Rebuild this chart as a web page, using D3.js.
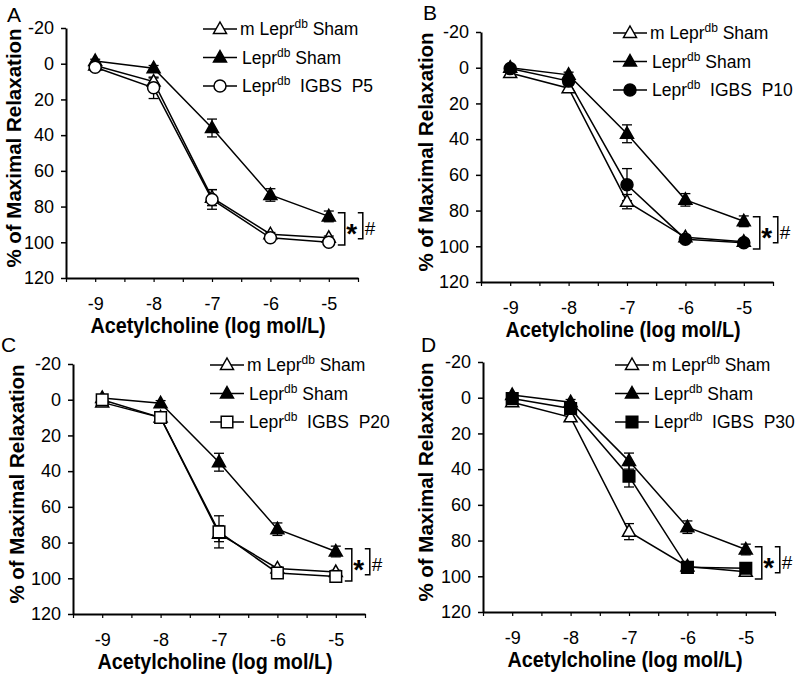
<!DOCTYPE html>
<html>
<head>
<meta charset="utf-8">
<script src="https://cdn.jsdelivr.net/npm/d3@7"></script>
<style>
  html, body { margin: 0; padding: 0; background: #fff; }
  svg { display: block; font-family: "Liberation Sans", Arial, sans-serif; }
  text { white-space: pre; }
</style>
</head>
<body>
<svg id="chart" width="800" height="674"></svg>
<script>
// ---------- DATA ----------
const concentrations = [-9, -8, -7, -6, -5];
const xTickValues = [-9.5, -9, -8.5, -8, -7.5, -7, -6.5, -6, -5.5, -5, -4.5];
const xTickLabels = ["-9", "-8", "-7", "-6", "-5"];
const yTicks = [-20, 0, 20, 40, 60, 80, 100, 120];
const yTickLabels = ["-20", "0", "20", "40", "60", "80", "100", "120"];
const panelLetters = ["A", "B", "C", "D"];
const igbsDoses = ["P5", "P10", "P20", "P30"];
const igbsMarkers = ["circleOpen", "circleFilled", "squareOpen", "squareFilled"];

// m Lepr^db Sham (open triangle), per panel
const mShamA = [1, 10, 75, 95.5, 97.5];
const mShamErrA = [1, 2, 4.5, 1, 1];
const mShamB = [3, 11.5, 75, 95, 97.5];
const mShamErrB = [1, 2, 4, 1, 1];
const mShamC = [1.5, 10, 75, 94.5, 96.5];
const mShamErrC = [1, 2, 4.5, 1, 1];
const mShamD = [2.5, 11, 75, 94.5, 97.5];
const mShamErrD = [1, 2, 4.5, 1, 1.5];

// Lepr^db Sham (filled triangle), per panel
const shamA = [-1.5, 2.5, 36, 73.5, 85.5];
const shamErrA = [1, 1.5, 5, 3.5, 3];
const shamB = [0, 4, 37, 74, 86];
const shamErrB = [1, 1.5, 5, 3.5, 3];
const shamC = [-1, 2, 35, 72.5, 85];
const shamErrC = [1, 1.5, 5, 3.5, 3];
const shamD = [-1.5, 2.5, 35.5, 72.5, 85];
const shamErrD = [1, 1.5, 4.5, 3.5, 3];

// Lepr^db IGBS (P5, P10, P20, P30), per panel
const igbsA = [2, 13.5, 76, 97.5, 100];
const igbsErrA = [1, 6, 5.5, 1, 1];
const igbsB = [0.5, 7.5, 65.5, 96, 98];
const igbsErrB = [1, 2, 9, 1, 1];
const igbsC = [0, 10, 74, 97, 99];
const igbsErrC = [1, 2, 9, 1, 1];
const igbsD = [0.5, 6, 44, 95, 95.5];
const igbsErrD = [1, 2, 6, 1, 3];

// significance brackets (y extents in data units): [top, bottom]
const bracketStar = [83.5, 101.5];
const bracketHash = [83.5, 98];

// ---------- LAYOUT ----------
const W = 292, H = 250;
const panelPos = [
  { x: 66, y: 28, letter: [7, 22], yt: -45 },
  { x: 481, y: 32, letter: [423, 20], yt: -48 },
  { x: 73, y: 364, letter: [1, 352], yt: -49 },
  { x: 483, y: 362, letter: [421, 352], yt: -50 }
];
const panelData = [
  { m: mShamA, me: mShamErrA, s: shamA, se: shamErrA, g: igbsA, ge: igbsErrA },
  { m: mShamB, me: mShamErrB, s: shamB, se: shamErrB, g: igbsB, ge: igbsErrB },
  { m: mShamC, me: mShamErrC, s: shamC, se: shamErrC, g: igbsC, ge: igbsErrC },
  { m: mShamD, me: mShamErrD, s: shamD, se: shamErrD, g: igbsD, ge: igbsErrD }
];

const svg = d3.select("#chart");
const x = d3.scaleLinear().domain([-9.5, -4.5]).range([0, W]);
const y = d3.scaleLinear().domain([-20, 120]).range([0, H]);

function markerPath(type) {
  if (type.startsWith("tri")) return "M0,-7L6.5,4.5L-6.5,4.5Z";
  if (type.startsWith("square")) return "M-5.8,-5.8H5.8V5.8H-5.8Z";
  return d3.symbol().type(d3.symbolCircle).size(Math.PI * 6 * 6)();
}
function markerFill(type) {
  return type.endsWith("Filled") ? "#000" : "#fff";
}

panelPos.forEach((p, i) => {
  const d = panelData[i];
  const g = svg.append("g").attr("transform", `translate(${p.x},${p.y})`);

  // panel letter
  svg.append("text").attr("x", p.letter[0]).attr("y", p.letter[1])
    .attr("font-size", 21).text(panelLetters[i]);

  // axes
  const xAxis = d3.axisBottom(x).tickValues(xTickValues)
    .tickFormat(v => Number.isInteger(v) ? xTickLabels[concentrations.indexOf(v)] : "")
    .tickSize(4).tickSizeOuter(0).tickPadding(15);
  const gx = g.append("g").attr("transform", `translate(0,${H})`).call(xAxis);
  gx.selectAll("text").attr("font-size", 18).attr("fill", "#000");
  gx.selectAll("line").attr("stroke", "#000").attr("stroke-width", 1.2);
  gx.select(".domain").attr("stroke", "#000").attr("stroke-width", 2);

  const yAxis = d3.axisLeft(y).tickValues(yTicks)
    .tickFormat(v => yTickLabels[yTicks.indexOf(v)])
    .tickSize(5).tickSizeOuter(0).tickPadding(7);
  const gy = g.append("g").call(yAxis);
  gy.selectAll("text").attr("font-size", 18).attr("fill", "#000");
  gy.selectAll("line").attr("stroke", "#000").attr("stroke-width", 1.5);
  gy.select(".domain").attr("stroke", "#000").attr("stroke-width", 2);

  // axis titles
  g.append("text")
    .attr("transform", `translate(${W / 2 - 4},${H + 55}) scale(0.9,1)`)
    .attr("text-anchor", "middle").attr("font-size", 22).attr("font-weight", "bold")
    .text("Acetylcholine (log mol/L)");
  g.append("text")
    .attr("transform", `translate(${p.yt},${H / 2 - 5}) rotate(-90)`)
    .attr("text-anchor", "middle").attr("font-size", 20.5).attr("font-weight", "bold")
    .text("% of Maximal Relaxation");

  const series = [
    { v: d.m, e: d.me, marker: "triOpen" },
    { v: d.s, e: d.se, marker: "triFilled" },
    { v: d.g, e: d.ge, marker: igbsMarkers[i] }
  ];

  const line = d3.line().x((v, j) => x(concentrations[j])).y(v => y(v));
  series.forEach(s => {
    g.append("path").datum(s.v).attr("d", line)
      .attr("fill", "none").attr("stroke", "#000").attr("stroke-width", 1.5);
  });
  series.forEach(s => {
    const eb = g.append("g");
    s.v.forEach((v, j) => {
      const cx = x(concentrations[j]);
      const y1 = y(v - s.e[j]), y2 = y(v + s.e[j]);
      eb.append("line").attr("x1", cx).attr("x2", cx).attr("y1", y1).attr("y2", y2)
        .attr("stroke", "#000").attr("stroke-width", 1.3);
      [y1, y2].forEach(yy => eb.append("line").attr("x1", cx - 5).attr("x2", cx + 5)
        .attr("y1", yy).attr("y2", yy).attr("stroke", "#000").attr("stroke-width", 1.3));
    });
  });
  series.forEach(s => {
    g.append("g").selectAll("path").data(s.v).join("path")
      .attr("transform", (v, j) => `translate(${x(concentrations[j])},${y(v)})`)
      .attr("d", markerPath(s.marker))
      .attr("fill", markerFill(s.marker)).attr("stroke", "#000").attr("stroke-width", 1.5);
  });

  // significance brackets
  const bx = x(-5);
  const br = g.append("g").attr("fill", "none").attr("stroke", "#000").attr("stroke-width", 1.5);
  br.append("path").attr("d",
    `M${bx + 9},${y(bracketStar[0])}H${bx + 16}V${y(bracketStar[1])}H${bx + 9}`);
  br.append("path").attr("d",
    `M${bx + 29},${y(bracketHash[0])}H${bx + 34}V${y(bracketHash[1])}H${bx + 29}`);
  g.append("text").attr("x", bx + 23).attr("y", y((bracketStar[0] + bracketStar[1]) / 2) + 14)
    .attr("text-anchor", "middle").attr("font-size", 28).attr("font-weight", "bold").text("*");
  g.append("text").attr("x", bx + 36).attr("y", y((bracketStar[0] + bracketStar[1]) / 2) + 6)
    .attr("font-size", 19).text("#");

  // legend
  const legendRows = [
    { marker: "triOpen", pre: "m Lepr", post: " Sham" },
    { marker: "triFilled", pre: "Lepr", post: " Sham" },
    { marker: igbsMarkers[i], pre: "Lepr", post: "  IGBS  " + igbsDoses[i] }
  ];
  const lg = g.append("g").attr("transform", `translate(${i % 2 === 0 ? 137 : 132},0)`);
  legendRows.forEach((r, k) => {
    const ly = k * 28.5 + (i === 3 ? 3 : 1);
    lg.append("line").attr("x1", 0).attr("x2", 34).attr("y1", ly).attr("y2", ly)
      .attr("stroke", "#000").attr("stroke-width", 1.5);
    lg.append("path").attr("transform", `translate(17,${ly})`).attr("d", markerPath(r.marker))
      .attr("fill", markerFill(r.marker)).attr("stroke", "#000").attr("stroke-width", 1.5);
    const t = lg.append("text").attr("x", (k === 0 ? 37 : 39)).attr("y", ly + 6).attr("font-size", 17.5);
    t.append("tspan").text(r.pre);
    t.append("tspan").attr("font-size", 12).attr("dy", -7).text("db");
    t.append("tspan").attr("dy", 7).text(r.post);
  });
});
</script>
</body>
</html>
